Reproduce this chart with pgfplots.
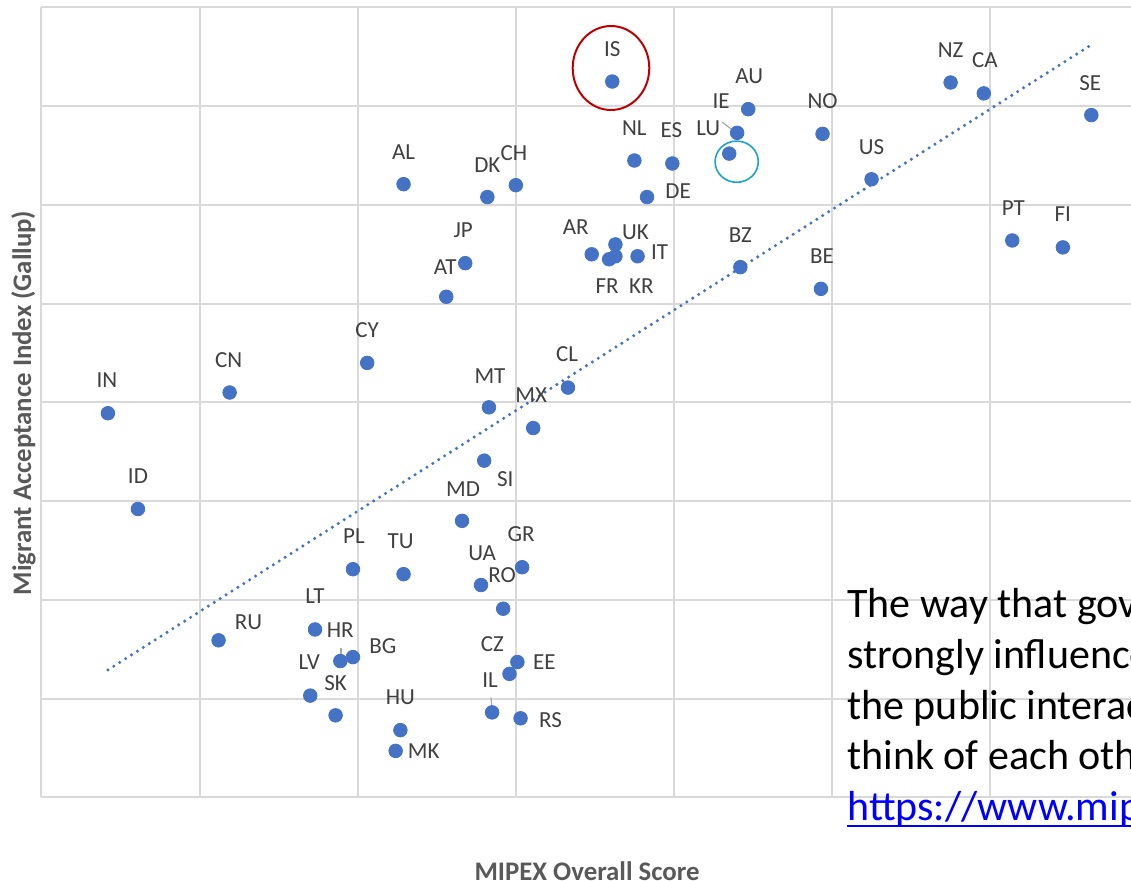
\documentclass[border=0pt]{standalone}
\usepackage{pgfplots}
\pgfplotsset{compat=1.18}
\usepackage{fontspec}
\setmainfont{Carlito}

\definecolor{dotblue}{HTML}{4472C4}
\definecolor{gridgray}{HTML}{D9D9D9}
\definecolor{labgray}{HTML}{404040}
\definecolor{titlegray}{HTML}{595959}
\definecolor{ringred}{HTML}{C00000}
\definecolor{ringcyan}{HTML}{1CA3C9}
\definecolor{linkblue}{HTML}{0000FF}

\begin{document}
\begin{tikzpicture}
\begin{axis}[
  at={(0,0)}, anchor=south west,
  scale only axis, width=544.75pt, height=394.9pt,
  xmin=20, xmax=88.91, ymin=1, ymax=9,
  xtick={20,30,...,90}, ytick={1,...,9},
  xticklabels={}, yticklabels={},
  major tick length=0pt,
  grid=major,
  major grid style={gridgray, line width=1pt},
  axis x line*=bottom, axis y line*=left,
  axis line style={gridgray, line width=1pt, -},
  xlabel={MIPEX Overall Score},
  ylabel={Migrant Acceptance Index (Gallup)},
  x label style={at={(axis description cs:0.5007,-0.0935)}, anchor=center,
    font=\fontsize{13.4}{15}\selectfont\bfseries, text=titlegray},
  y label style={at={(axis description cs:-0.0165,0.4993)}, anchor=center,
    font=\fontsize{13.4}{15}\selectfont\bfseries, text=titlegray},
]
% linear trend line
\addplot[dotblue, line width=1.7pt, line cap=round, dash pattern=on 0pt off 3.5pt]
  coordinates {(24.2,2.29) (86.38,8.62)};

% x = MIPEX score, y = Gallup index, dx/dy = label offset in px
\addplot[only marks, mark=*, mark size=3.4pt,
  mark options={fill=dotblue, draw=dotblue},
  point meta=explicit symbolic,
  visualization depends on={\thisrow{dx} \as \labdx},
  visualization depends on={\thisrow{dy} \as \labdy},
  nodes near coords,
  every node near coord/.append style={anchor=center, inner sep=0pt,
    xshift={\labdx*0.5pt}, yshift={\labdy*0.5pt},
    font=\fontsize{11.5}{13}\selectfont, text=labgray}]
  table[x=x, y=y, meta=lbl] {
x y lbl dx dy
56.1 8.25 IS 0 32
77.5 8.24 NZ 0 32
79.6 8.13 CA 1 33
64.7 7.97 AU 1 33
86.4 7.91 SE -1 32
64.0 7.73 IE -16 32
69.4 7.72 NO 0 33
63.5 7.52 LU -21 25
57.5 7.45 NL 0 32
59.9 7.42 ES -1 33
72.5 7.26 US 0 32
42.9 7.21 AL 0 32
50.0 7.20 CH -2 32
48.2 7.08 DK 0 32
58.3 7.08 DE 31 6
81.4 6.64 PT 1 32
84.6 6.57 FI 0 33
56.3 6.60 UK 20 12
54.8 6.50 AR -16 27
57.7 6.48 IT 22 4
56.3 6.48 KR 26 -30
55.9 6.45 FR -2 -27
46.8 6.41 JP -2 33
64.2 6.37 BZ 0 32
69.3 6.15 BE 1 33
45.6 6.07 AT -1 30
40.6 5.40 CY 0 33
53.3 5.15 CL -1 33
31.9 5.10 CN -1 32
48.3 4.95 MT 1 31
24.2 4.89 IN -1 33
51.1 4.74 MX -2 33
48.0 4.41 SI 21 -18
26.1 3.92 ID 0 33
46.6 3.80 MD 1 32
50.4 3.33 GR -1 33
39.7 3.31 PL 1 33
42.9 3.26 TU -3 33
47.8 3.15 UA 1 32
49.2 2.91 RO -1 34
37.3 2.70 LT 0 33
31.2 2.59 RU 30 18
39.7 2.42 BG 30 11
38.9 2.38 HR 0 31
50.1 2.37 EE 27 0
49.6 2.25 CZ -17 30
37.0 2.03 LV -1 33
38.6 1.83 SK 0 32
48.5 1.86 IL -2 32
50.3 1.80 RS 30 -2
42.7 1.68 HU 0 33
42.4 1.47 MK 28 0
};

% leader lines
\draw[gray!70, line width=0.6pt] (axis cs:63.04,7.84) -- (axis cs:63.86,7.74);
\draw[gray!70, line width=0.6pt] (axis cs:38.94,2.51) -- (axis cs:38.94,2.41);
\draw[gray!70, line width=0.6pt] (axis cs:48.43,2.01) -- (axis cs:48.49,1.885);

% highlight rings
\draw[ringred, line width=1pt] (axis cs:56.02,8.387) ellipse [x radius=19.15pt, y radius=21pt];
\draw[ringcyan, line width=0.8pt] (axis cs:63.97,7.438) ellipse [x radius=10.8pt, y radius=10.3pt];
\end{axis}

\begin{scope}[every node/.style={anchor=base west, inner sep=0pt,
    font=\fontsize{21}{25}\selectfont}]
\node at (402.75pt,89.65pt) {The way that governments treat immigrants};
\node at (402.75pt,64.15pt) {strongly influences how well immigrants and};
\node at (402.75pt,38.65pt) {the public interact and how they};
\node at (402.75pt,13.65pt) {think of each other.};
\node[text=linkblue] (url) at (402.75pt,-11.85pt) {https://www.mipex.eu/key-findings};
\end{scope}
\draw[linkblue, line width=0.9pt] ([yshift=-2.6pt]url.base west) -- ([yshift=-2.6pt]url.base east);

\pgfresetboundingbox
\path (-20.75pt,-41.85pt) rectangle (544.75pt,398.65pt);
\end{tikzpicture}
\end{document}
